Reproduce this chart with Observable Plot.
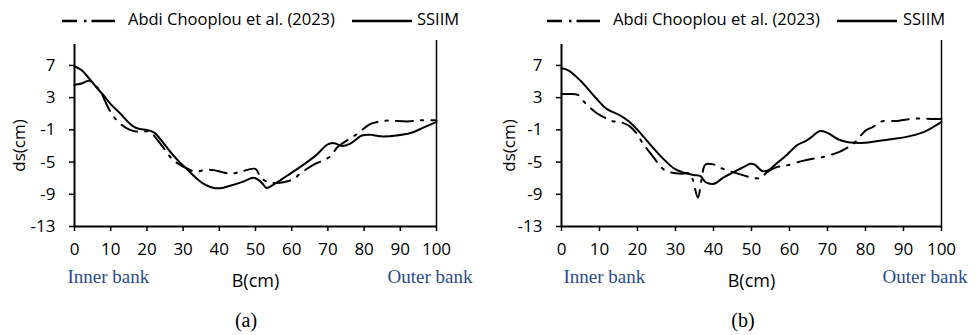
<!DOCTYPE html>
<html>
<head>
<meta charset="utf-8">
<script src="https://cdn.jsdelivr.net/npm/d3@7"></script>
<script src="https://cdn.jsdelivr.net/npm/@observablehq/plot@0.6"></script>
<style>
  body { margin: 0; background: #fff; }
  #wrap { position: relative; width: 979px; height: 335px; overflow: hidden; font-family: "Open Sans", sans-serif; color: #000; }
  .abs { position: absolute; white-space: nowrap; }
  .leg { font-size: 16.5px; line-height: 1; }
  .tag { font-family: "Liberation Serif", "Times New Roman", serif; font-size: 20px; transform: translateX(-50%); }
  svg.plot { position: absolute; top: 30px; }
</style>
</head>
<body>
<div id="wrap"></div>
<script>
// Axis ticks and text
const xTicks = [0, 10, 20, 30, 40, 50, 60, 70, 80, 90, 100];
const yTicks = [7, 3, -1, -5, -9, -13];
const seriesNames = ["Abdi Chooplou et al. (2023)", "SSIIM"];
const bankLabels = ["Inner bank", "Outer bank"];
const xLabel = "B(cm)";
const yLabel = "ds(cm)";
const panelTags = ["(a)", "(b)"];

// Panel (a): bed change ds (cm) across the width B (cm)
const aAbdiB  = [0, 2, 4, 6, 7.2, 9.5, 10.9, 12.7, 15, 17, 19.3, 20.5, 21.5, 24.2, 25.8, 27.4, 31.1, 33.5, 36.2, 38.5, 40.8, 43.3, 45.9, 50, 51.4, 53.6, 55.9, 57.7, 60.6, 62.4, 66.6, 68.7, 70.9, 72.6, 76, 78.1, 80, 81.8, 84.5, 86.7, 92, 96, 100];
const aAbdiDs = [4.6, 4.75, 5.1, 4.4, 3.7, 1.6, 0.6, -0.25, -0.95, -1.2, -1.2, -1.2, -1.5, -3.0, -4.0, -4.8, -5.8, -6.2, -5.95, -6.0, -6.25, -6.45, -6.2, -5.85, -6.9, -7.5, -7.6, -7.5, -7.1, -6.4, -5.2, -4.8, -4.2, -3.15, -2.1, -1.5, -0.8, -0.25, 0.05, 0.15, 0.05, 0.2, 0.2];
const aSsiimB  = [0, 2, 4, 6, 8, 10, 12.7, 16, 18, 20, 22, 24.5, 26.5, 29, 31, 33.4, 35.7, 38, 40.3, 43, 46.8, 49.3, 50.6, 51.8, 53, 55, 58.7, 62.4, 66.6, 69.8, 71, 72.1, 73.9, 76.2, 79.4, 81.8, 84.5, 89, 92.8, 96.5, 100];
const aSsiimDs = [6.9, 6.4, 5.4, 4.3, 3.3, 2.2, 1.0, -0.5, -0.9, -1.0, -1.35, -2.6, -3.75, -5.0, -5.85, -6.9, -7.7, -8.15, -8.25, -7.95, -7.4, -6.95, -7.15, -7.6, -8.2, -7.8, -6.7, -5.6, -4.2, -2.85, -2.65, -2.7, -3.0, -2.7, -1.7, -1.6, -1.8, -1.7, -1.4, -0.7, 0.0];

// Panel (b)
const bAbdiB  = [0, 2, 4.5, 5.9, 7.5, 9.5, 11.9, 13.2, 15.1, 17.8, 20, 21.3, 24.3, 25.5, 27.3, 31.5, 33.8, 34.5, 35.9, 36.8, 37.9, 40.1, 42.3, 46.2, 48.9, 51, 52.4, 54, 56.8, 59, 63.5, 66.1, 68.6, 72.8, 74.9, 76.9, 80, 82.1, 84.2, 88.5, 90.9, 93.1, 97.9, 100];
const bAbdiDs = [3.45, 3.45, 3.3, 2.5, 1.75, 1.0, 0.4, 0.1, 0.0, -0.5, -1.6, -2.6, -4.45, -5.2, -6.05, -6.45, -6.4, -7.1, -9.4, -7.3, -5.3, -5.3, -5.8, -6.4, -6.8, -7.0, -7.0, -6.3, -5.6, -5.45, -4.85, -4.6, -4.4, -3.8, -3.3, -2.7, -1.1, -0.6, 0.05, 0.1, 0.3, 0.4, 0.35, 0.35];
const bSsiimB  = [0, 1.8, 4.9, 8.4, 11.9, 15.4, 17.6, 19.8, 23.3, 26.8, 29.8, 32.5, 34.8, 36.6, 37.5, 38.4, 40.1, 42.7, 45.3, 48, 49.7, 50.8, 52.8, 54.3, 56.8, 59.4, 62, 64.2, 65.5, 68, 69.9, 72.9, 75.1, 77.3, 80, 86.1, 90.5, 94.9, 98.3, 100];
const bSsiimDs = [6.65, 6.4, 5.15, 3.3, 1.6, 0.8, 0.1, -0.9, -2.8, -4.6, -5.85, -6.35, -6.6, -6.75, -7.3, -7.6, -7.7, -6.9, -6.25, -5.6, -5.2, -5.3, -6.1, -6.05, -5.1, -4.05, -2.9, -2.4, -2.0, -1.15, -1.35, -2.2, -2.5, -2.6, -2.6, -2.2, -1.9, -1.35, -0.5, 0.0];

const DASH = "17,8,2.5,8";
const BLUE = "#2a4b8d";
const Y_TOP = 9.6, Y_RIGHT_TOP = 10.1, Y_MIN = -13;

const rows = (xs, ys) => xs.map((x, i) => ({x, y: ys[i]}));

const wrap = document.getElementById("wrap");

function addEl(html, cls, style) {
  const d = document.createElement("div");
  d.className = "abs " + (cls || "");
  Object.assign(d.style, style);
  d.innerHTML = html;
  wrap.appendChild(d);
  return d;
}

function swatch(left, width, dash) {
  const ns = "http://www.w3.org/2000/svg";
  const s = document.createElementNS(ns, "svg");
  s.setAttribute("width", width);
  s.setAttribute("height", 6);
  s.style.position = "absolute";
  s.style.left = left + "px";
  s.style.top = "18px";
  const l = document.createElementNS(ns, "line");
  l.setAttribute("x1", 0); l.setAttribute("x2", width);
  l.setAttribute("y1", 3); l.setAttribute("y2", 3);
  l.setAttribute("stroke", "#000");
  l.setAttribute("stroke-width", 2.5);
  if (dash) l.setAttribute("stroke-dasharray", dash);
  s.appendChild(l);
  wrap.appendChild(s);
}

function panel(p) {
  const abdi = rows(p.abdiB, p.abdiDs);
  const ssiim = rows(p.ssB, p.ssDs);
  const chart = Plot.plot({
    width: p.width,
    height: 270,
    marginLeft: p.ml,
    marginRight: p.mr,
    marginTop: 14,
    marginBottom: 74,
    x: {domain: [0, 100]},
    y: {domain: [Y_MIN, Y_TOP]},
    style: {fontFamily: "'Open Sans', sans-serif", fontSize: "17px", color: "#000", background: "transparent"},
    marks: [
      Plot.axisX({ticks: xTicks, tickSize: 5, tickPadding: 11, tickFormat: d => String(d), label: null, strokeWidth: 1.5}),
      Plot.axisY({ticks: yTicks, tickSize: 5, tickPadding: 14, tickFormat: d => String(d), label: null, strokeWidth: 1.5}),
      Plot.ruleX([0], {y1: Y_MIN, y2: Y_TOP, strokeWidth: 2}),
      Plot.ruleY([Y_MIN], {x1: 0, x2: 100, strokeWidth: 2}),
      Plot.ruleX([100], {y1: Y_MIN, y2: Y_RIGHT_TOP, strokeWidth: 1.5}),
      Plot.line(abdi, {x: "x", y: "y", curve: "catmull-rom", stroke: "#000", strokeWidth: 2, strokeDasharray: DASH}),
      Plot.line(ssiim, {x: "x", y: "y", curve: "catmull-rom", stroke: "#000", strokeWidth: 2}),
      Plot.text([xLabel], {x: 50, y: Y_MIN, dy: 54.5, fontSize: 18}),
      Plot.text([bankLabels[0]], {x: 0, y: Y_MIN, dy: 50, dx: p.innerDx, textAnchor: "start", fill: BLUE, fontFamily: "'Liberation Serif', serif", fontSize: 19}),
      Plot.text([bankLabels[1]], {x: 100, y: Y_MIN, dy: 50, dx: p.outerDx, textAnchor: "end", fill: BLUE, fontFamily: "'Liberation Serif', serif", fontSize: 19}),
      Plot.text([yLabel], {frameAnchor: "left", textAnchor: "middle", dx: p.yLabelDx, dy: 10, rotate: -90, fontSize: 17})
    ]
  });
  chart.classList.add("plot");
  chart.style.left = p.left + "px";
  wrap.appendChild(chart);

  // legend
  swatch(p.leg[0], p.leg[1] - p.leg[0], "15,7,2.5,5,40");
  addEl(seriesNames[0], "leg", {left: p.leg[2] + "px", top: "11px"});
  swatch(p.leg[3], p.leg[4] - p.leg[3], null);
  addEl(seriesNames[1], "leg", {left: p.leg[5] + "px", top: "11px"});

  addEl(p.tag, "tag", {left: p.tagX + "px", top: "309px"});
}

panel({left: 0, width: 490, ml: 74, mr: 54, abdiB: aAbdiB, abdiDs: aAbdiDs, ssB: aSsiimB, ssDs: aSsiimDs,
       innerDx: -7, outerDx: 36, yLabelDx: -55, leg: [62, 115, 128, 352, 412, 417], tag: panelTags[0], tagX: 246});
panel({left: 490, width: 489, ml: 71, mr: 38, abdiB: bAbdiB, abdiDs: bAbdiDs, ssB: bSsiimB, ssDs: bSsiimDs,
       innerDx: 2, outerDx: 26, yLabelDx: -52, leg: [547, 600, 613, 837, 897, 903], tag: panelTags[1], tagX: 743});
</script>
</body>
</html>
